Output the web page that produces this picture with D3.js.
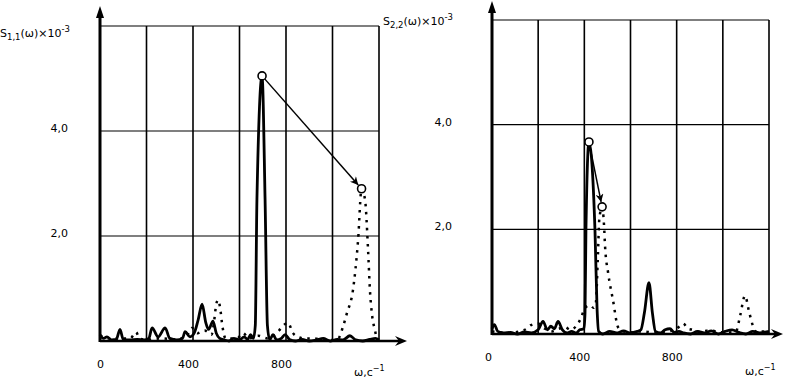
<!DOCTYPE html>
<html>
<head>
<meta charset="utf-8">
<script src="https://cdn.jsdelivr.net/npm/d3@7"></script>
<style>
  body { margin: 0; background: #fff; }
  svg { display: block; }
  text { font-family: "DejaVu Sans", Verdana, sans-serif; font-size: 11px; fill: #000; }
</style>
</head>
<body>
<div id="chart"></div>
<script>
// valores (omega en c^-1, S x 10^-3)
const leftSolidW = [0, 15, 30, 50, 70, 86, 100, 130, 160, 190, 210, 224, 250, 280, 300, 330, 355, 366, 387, 405, 422, 439, 455, 467, 486, 500, 515, 535, 555, 575, 600, 620, 635, 648, 660, 668, 675, 697, 710, 720, 730, 744, 760, 780, 796, 815, 840, 870, 900, 930, 960, 990, 1020, 1045, 1075, 1100, 1130, 1160, 1185, 1200]
const leftSolidS = [0.12, 0.05, 0.08, 0.02, 0.03, 0.22, 0.03, 0.02, 0.03, 0.02, 0.05, 0.25, 0.08, 0.25, 0.05, 0.02, 0.05, 0.18, 0.08, 0.15, 0.4, 0.7, 0.35, 0.22, 0.38, 0.15, 0.05, 0.02, 0.0, 0.05, 0.02, 0.08, 0.03, 0.12, 0.05, 0.3, 2.7, 5.05, 2.7, 0.3, 0.02, 0.12, 0.02, 0.05, 0.12, 0.03, 0.0, 0.03, 0.0, 0.02, 0.05, 0.0, 0.03, 0.02, 0.1, 0.02, 0.0, 0.03, 0.05, 0.02]

const leftDotW = [0, 40, 80, 130, 155, 170, 200, 260, 320, 370, 395, 420, 450, 480, 490, 500, 508, 516, 527, 540, 560, 590, 615, 640, 680, 720, 745, 770, 790, 808, 830, 850, 880, 920, 960, 1000, 1025, 1045, 1062, 1088, 1110, 1125, 1140, 1153, 1161, 1170, 1183, 1192, 1200]
const leftDotS = [0.1, 0.05, 0.05, 0.05, 0.17, 0.05, 0.02, 0.05, 0.03, 0.08, 0.25, 0.15, 0.2, 0.12, 0.35, 0.7, 0.78, 0.65, 0.27, 0.05, 0.05, 0.05, 0.15, 0.05, 0.1, 0.05, 0.1, 0.2, 0.3, 0.35, 0.15, 0.08, 0.05, 0.05, 0.02, 0.02, 0.05, 0.27, 0.53, 0.97, 1.92, 2.9, 2.69, 1.73, 0.97, 0.5, 0.2, 0.03, 0.02]

const rightSolidW = [0, 10, 25, 50, 80, 110, 140, 170, 200, 221, 240, 255, 270, 286, 305, 325, 345, 365, 380, 398, 403, 407, 420, 446, 455, 462, 480, 510, 540, 570, 600, 630, 645, 660, 680, 695, 708, 730, 750, 771, 790, 810, 830, 860, 890, 920, 950, 980, 1010, 1040, 1070, 1100, 1130, 1160, 1200]
const rightSolidS = [0.1, 0.18, 0.05, 0.02, 0.03, 0.0, 0.04, 0.02, 0.08, 0.24, 0.08, 0.15, 0.1, 0.24, 0.08, 0.02, 0.05, 0.02, 0.08, 0.1, 0.4, 2.0, 3.67, 2.0, 0.5, 0.05, 0.0, 0.05, 0.02, 0.06, 0.02, 0.05, 0.08, 0.4, 0.98, 0.4, 0.05, 0.02, 0.08, 0.1, 0.03, 0.05, 0.02, 0.0, 0.05, 0.02, 0.06, 0.0, 0.05, 0.08, 0.03, 0.0, 0.05, 0.02, 0.05]

const rightDotW = [0, 40, 80, 120, 150, 169, 199, 230, 260, 290, 316, 340, 364, 385, 403, 425, 440, 450, 458, 465, 477, 485, 490, 503, 524, 546, 565, 600, 650, 700, 760, 800, 828, 850, 871, 901, 930, 958, 979, 1030, 1057, 1075, 1096, 1115, 1135, 1150, 1175, 1200]
const rightDotS = [0.05, 0.03, 0.02, 0.05, 0.1, 0.17, 0.2, 0.1, 0.05, 0.1, 0.13, 0.08, 0.15, 0.3, 0.5, 0.55, 0.5, 0.6, 1.4, 2.2, 2.43, 2.1, 1.66, 1.17, 0.65, 0.13, 0.05, 0.03, 0.05, 0.03, 0.05, 0.1, 0.2, 0.1, 0.08, 0.04, 0.06, 0.06, 0.04, 0.03, 0.05, 0.35, 0.73, 0.4, 0.1, 0.03, 0.05, 0.03]

// puntos marcados con circulo (desde -> hasta)
const leftMarks = [[697, 5.05], [1125, 2.9]]
const rightMarks = [[420, 3.67], [477, 2.43]]

const xGrid = [200, 400, 600, 800, 1000, 1200]
const yGrid = [2, 4, 6]
const yTicks = [2, 4]
const yTickLabels = ["2,0", "4,0"]
const xTicks = [0, 400, 800]

const width = 787, height = 381

const svg = d3.select("#chart").append("svg")
  .attr("width", width)
  .attr("height", height)

const defs = svg.append("defs")
defs.append("marker")
  .attr("id", "flecha")
  .attr("viewBox", "0 0 10 10")
  .attr("refX", 10).attr("refY", 5)
  .attr("markerWidth", 11).attr("markerHeight", 8)
  .attr("markerUnits", "userSpaceOnUse")
  .attr("orient", "auto")
  .append("path")
  .attr("d", "M0,0 L10,5 L0,10 L3,5 Z")
  .attr("fill", "#000")

function panel(cfg){
  const x = d3.scaleLinear().domain([0, 1200]).range(cfg.xr)
  const y = d3.scaleLinear().domain([0, 6]).range(cfg.yr)
  const g = svg.append("g")

  // rejilla
  g.selectAll(".vg").data(xGrid).enter().append("line")
    .attr("x1", d => x(d)).attr("x2", d => x(d))
    .attr("y1", y(0)).attr("y2", y(6))
    .attr("stroke", "#000").attr("stroke-width", 1.6)
  g.selectAll(".hg").data(yGrid).enter().append("line")
    .attr("x1", x(0)).attr("x2", x(1200))
    .attr("y1", d => y(d)).attr("y2", d => y(d))
    .attr("stroke", "#000").attr("stroke-width", 1.2)

  // ejes con flecha
  g.append("line")
    .attr("x1", x(0)).attr("x2", x(0))
    .attr("y1", y(0) + 1).attr("y2", cfg.yTip + 8)
    .attr("stroke", "#000").attr("stroke-width", 3)
  g.append("path")
    .attr("d", `M${x(0)},${cfg.yTip} L${x(0) - 4},${cfg.yTip + 12} L${x(0) + 4},${cfg.yTip + 12} Z`)
    .attr("fill", "#000")
  g.append("line")
    .attr("x1", x(0)).attr("x2", cfg.xTip - 6)
    .attr("y1", y(0)).attr("y2", y(0))
    .attr("stroke", "#000").attr("stroke-width", 2.5)
  g.append("path")
    .attr("d", `M${cfg.xTip},${y(0)} L${cfg.xTip - 12},${y(0) - 5} L${cfg.xTip - 8},${y(0)} L${cfg.xTip - 12},${y(0) + 5} Z`)
    .attr("fill", "#000")

  // etiquetas de los ejes
  const ax = d3.axisBottom(x).tickValues(xTicks).tickSize(0).tickPadding(cfg.xPad).tickFormat(d3.format("d"))
  const gx = g.append("g").attr("transform", `translate(0,${y(0)})`).call(ax)
  gx.select(".domain").remove()
  gx.selectAll("text").attr("font-size", 12).attr("font-family", "DejaVu Sans").attr("fill", "#000")
    .attr("dx", d => d == 0 ? cfg.zeroDx : -5)

  const ay = d3.axisLeft(y).tickValues(yTicks).tickSize(0).tickPadding(x(0) - cfg.yLabX)
    .tickFormat((d, i) => yTickLabels[i])
  const gy = g.append("g").attr("transform", `translate(${x(0)},-3)`).call(ay)
  gy.select(".domain").remove()
  gy.selectAll("text").attr("font-size", 12).attr("font-family", "DejaVu Sans").attr("fill", "#000")

  const wl = g.append("text").attr("x", cfg.wLab[0]).attr("y", cfg.wLab[1]).attr("font-size", 12)
  wl.append("tspan").text("ω,c")
  wl.append("tspan").attr("dy", -5).attr("font-size", 8).text("−1")

  const tl = g.append("text").attr("x", cfg.title[0]).attr("y", cfg.title[1]).attr("font-size", 12)
  tl.append("tspan").text("S")
  tl.append("tspan").attr("dy", 3).attr("font-size", 8.5).text(cfg.sub)
  tl.append("tspan").attr("dy", -3).text("(ω)×10")
  tl.append("tspan").attr("dy", -5).attr("font-size", 8.5).text("-3")

  // curvas
  const linea = d3.line().x(d => x(d[0])).y(d => y(d[1])).curve(d3.curveMonotoneX)
  g.append("path")
    .datum(d3.zip(cfg.dotW, cfg.dotS))
    .attr("d", linea)
    .attr("fill", "none").attr("stroke", "#000")
    .attr("stroke-width", 2.5).attr("stroke-dasharray", "2.5,5.5")
  g.append("path")
    .datum(d3.zip(cfg.solidW, cfg.solidS))
    .attr("d", linea)
    .attr("fill", "none").attr("stroke", "#000")
    .attr("stroke-width", 2.8).attr("stroke-linejoin", "round")

  // flecha entre maximos
  const p0 = [x(cfg.marks[0][0]), y(cfg.marks[0][1])]
  const p1 = [x(cfg.marks[1][0]), y(cfg.marks[1][1])]
  const len = Math.hypot(p1[0] - p0[0], p1[1] - p0[1])
  const ux = (p1[0] - p0[0]) / len, uy = (p1[1] - p0[1]) / len
  g.append("line")
    .attr("x1", p0[0] + ux * 4).attr("y1", p0[1] + uy * 4)
    .attr("x2", p1[0] - ux * 5).attr("y2", p1[1] - uy * 5)
    .attr("stroke", "#000").attr("stroke-width", 1.5)
    .attr("marker-end", "url(#flecha)")
  g.selectAll(".mk").data(cfg.marks).enter().append("circle")
    .attr("cx", d => x(d[0])).attr("cy", d => y(d[1]))
    .attr("r", 4)
    .attr("fill", "#fff").attr("stroke", "#000").attr("stroke-width", 1.6)
}

panel({
  xr: [100, 379], yr: [341, 26], yTip: 6, xTip: 407, xPad: 19, yLabX: 68, zeroDx: 0,
  wLab: [354, 376], title: [0, 37], sub: "1,1",
  solidW: leftSolidW, solidS: leftSolidS, dotW: leftDotW, dotS: leftDotS, marks: leftMarks
})
panel({
  xr: [492, 769], yr: [334, 20], yTip: 1, xTip: 783, xPad: 19, yLabX: 452, zeroDx: -4,
  wLab: [745, 375], title: [383, 25], sub: "2,2",
  solidW: rightSolidW, solidS: rightSolidS, dotW: rightDotW, dotS: rightDotS, marks: rightMarks
})
</script>
</body>
</html>
